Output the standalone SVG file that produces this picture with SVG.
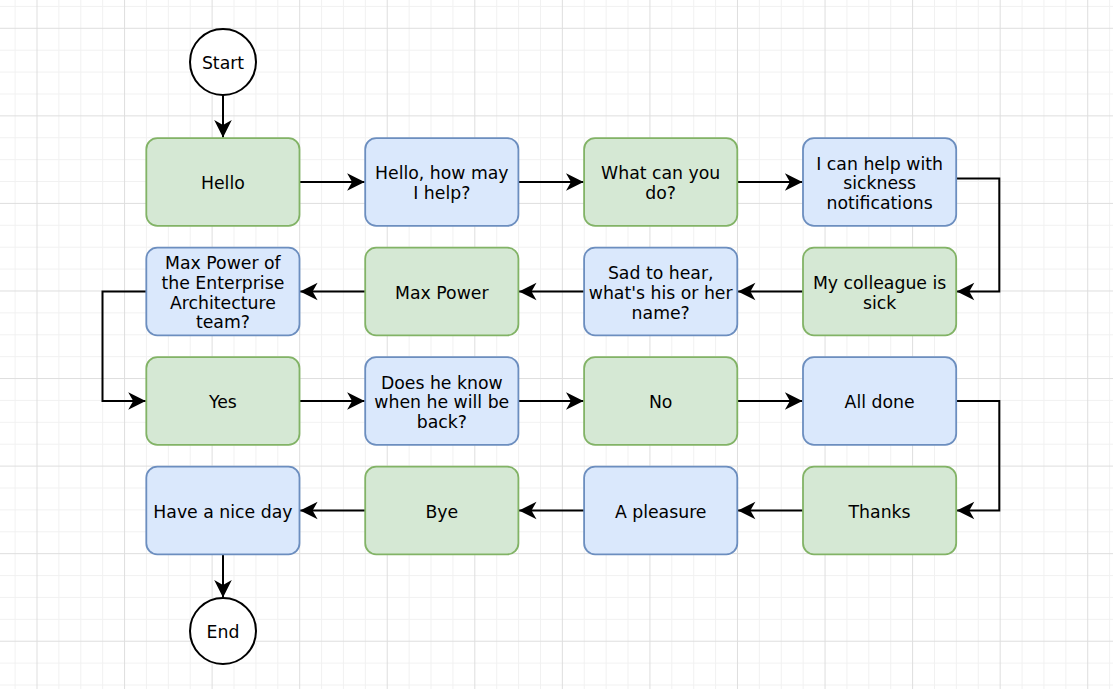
<svg xmlns="http://www.w3.org/2000/svg" width="1113" height="689" viewBox="0 0 1113 689">
<style>
.g{fill:#d5e8d4;stroke:#82b366;stroke-width:1.8}
.b{fill:#dae8fc;stroke:#6c8ebf;stroke-width:1.8}
.c{fill:#ffffff;stroke:#000000;stroke-width:2}
.t{font-family:"DejaVu Sans","Verdana",sans-serif;font-size:17.3px;fill:#000000;text-anchor:middle}
.e{fill:none;stroke:#000000;stroke-width:2;marker-end:url(#arr)}
.mn{stroke:#f1f1f1;stroke-width:1}
.mj{stroke:#dedede;stroke-width:1}
</style>
<defs>
<pattern id="grid" x="36.5" y="27.8" width="87.56" height="87.56" patternUnits="userSpaceOnUse">
<line class="mn" x1="22.39" y1="0" x2="22.39" y2="87.56"/>
<line class="mn" x1="44.28" y1="0" x2="44.28" y2="87.56"/>
<line class="mn" x1="66.17" y1="0" x2="66.17" y2="87.56"/>
<line class="mn" x1="0" y1="22.39" x2="87.56" y2="22.39"/>
<line class="mn" x1="0" y1="44.28" x2="87.56" y2="44.28"/>
<line class="mn" x1="0" y1="66.17" x2="87.56" y2="66.17"/>
<line class="mj" x1="0.5" y1="0" x2="0.5" y2="87.56"/>
<line class="mj" x1="0" y1="0.5" x2="87.56" y2="0.5"/>
</pattern>
<marker id="arr" markerUnits="userSpaceOnUse" markerWidth="20" markerHeight="20" viewBox="-19 -10 20 20" refX="0" refY="0" orient="auto">
<path d="M0,0 L-17.5,-8.8 L-12.5,0 L-17.5,8.8 Z" fill="#000000" stroke="none"/>
</marker>
</defs>
<rect x="0" y="0" width="1113" height="689" fill="#ffffff"/>
<rect x="0" y="0" width="1113" height="689" fill="url(#grid)"/>

<g id="connectors">
<path class="e" d="M223,95 L223,137.6"/>
<path class="e" d="M299.5,182 L364.6,182"/>
<path class="e" d="M518.4,182 L583.5,182"/>
<path class="e" d="M737.3,182 L802.4,182"/>
<path class="e" d="M956.2,178.5 L999.3,178.5 L999.3,291.5 L956.8,291.5"/>
<path class="e" d="M803,291.5 L737.9,291.5"/>
<path class="e" d="M584.1,291.5 L519,291.5"/>
<path class="e" d="M365.2,291.5 L300.1,291.5"/>
<path class="e" d="M146.3,291.5 L102.5,291.5 L102.5,401 L145.7,401"/>
<path class="e" d="M299.5,401 L364.6,401"/>
<path class="e" d="M518.4,401 L583.5,401"/>
<path class="e" d="M737.3,401 L802.4,401"/>
<path class="e" d="M956.2,401 L999.3,401 L999.3,510.5 L956.8,510.5"/>
<path class="e" d="M803,510.5 L737.9,510.5"/>
<path class="e" d="M584.1,510.5 L519,510.5"/>
<path class="e" d="M365.2,510.5 L300.1,510.5"/>
<path class="e" d="M223,554.3 L223,597.4"/>
</g>

<g id="start"><circle class="c" cx="223" cy="62" r="33"/><text class="t" x="223" y="69.3">Start</text></g>
<g id="end"><circle class="c" cx="223" cy="631" r="33"/><text class="t" x="223" y="638.3">End</text></g>

<g id="n1"><rect class="g" x="146.3" y="138.2" width="153.2" height="87.6" rx="11"/><text class="t" x="222.9" y="189.3">Hello</text></g>
<g id="n2"><rect class="b" x="365.2" y="138.2" width="153.2" height="87.6" rx="11"/><text class="t" x="441.8" y="179.4">Hello, how may</text><text class="t" x="441.8" y="199.1">I help?</text></g>
<g id="n3"><rect class="g" x="584.1" y="138.2" width="153.2" height="87.6" rx="11"/><text class="t" x="660.7" y="179.4">What can you</text><text class="t" x="660.7" y="199.1">do?</text></g>
<g id="n4"><rect class="b" x="803" y="138.2" width="153.2" height="87.6" rx="11"/><text class="t" x="879.6" y="169.6">I can help with</text><text class="t" x="879.6" y="189.3">sickness</text><text class="t" x="879.6" y="209">notifications</text></g>

<g id="n5"><rect class="b" x="146.3" y="247.7" width="153.2" height="87.6" rx="11"/><text class="t" x="222.9" y="269.3">Max Power of</text><text class="t" x="222.9" y="289">the Enterprise</text><text class="t" x="222.9" y="308.7">Architecture</text><text class="t" x="222.9" y="328.4">team?</text></g>
<g id="n6"><rect class="g" x="365.2" y="247.7" width="153.2" height="87.6" rx="11"/><text class="t" x="441.8" y="298.8">Max Power</text></g>
<g id="n7"><rect class="b" x="584.1" y="247.7" width="153.2" height="87.6" rx="11"/><text class="t" x="660.7" y="279.1">Sad to hear,</text><text class="t" x="660.7" y="298.8">what's his or her</text><text class="t" x="660.7" y="318.5">name?</text></g>
<g id="n8"><rect class="g" x="803" y="247.7" width="153.2" height="87.6" rx="11"/><text class="t" x="879.6" y="288.9">My colleague is</text><text class="t" x="879.6" y="308.6">sick</text></g>

<g id="n9"><rect class="g" x="146.3" y="357.2" width="153.2" height="87.6" rx="11"/><text class="t" x="222.9" y="408.3">Yes</text></g>
<g id="n10"><rect class="b" x="365.2" y="357.2" width="153.2" height="87.6" rx="11"/><text class="t" x="441.8" y="388.6">Does he know</text><text class="t" x="441.8" y="408.3">when he will be</text><text class="t" x="441.8" y="428">back?</text></g>
<g id="n11"><rect class="g" x="584.1" y="357.2" width="153.2" height="87.6" rx="11"/><text class="t" x="660.7" y="408.3">No</text></g>
<g id="n12"><rect class="b" x="803" y="357.2" width="153.2" height="87.6" rx="11"/><text class="t" x="879.6" y="408.3">All done</text></g>

<g id="n13"><rect class="b" x="146.3" y="466.7" width="153.2" height="87.6" rx="11"/><text class="t" x="222.9" y="517.8">Have a nice day</text></g>
<g id="n14"><rect class="g" x="365.2" y="466.7" width="153.2" height="87.6" rx="11"/><text class="t" x="441.8" y="517.8">Bye</text></g>
<g id="n15"><rect class="b" x="584.1" y="466.7" width="153.2" height="87.6" rx="11"/><text class="t" x="660.7" y="517.8">A pleasure</text></g>
<g id="n16"><rect class="g" x="803" y="466.7" width="153.2" height="87.6" rx="11"/><text class="t" x="879.6" y="517.8">Thanks</text></g>
</svg>
